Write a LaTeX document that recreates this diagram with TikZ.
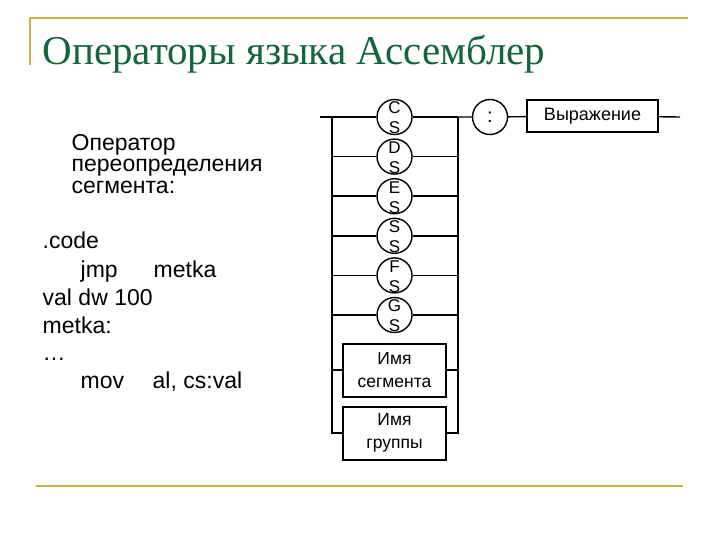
\documentclass[tikz,border=0pt]{standalone}
\usepackage{fontspec}
\setmainfont{Liberation Serif}
\newfontfamily\arialfont{Liberation Sans}
\definecolor{rulecolor}{RGB}{196,180,72}
\definecolor{titlegreen}{RGB}{20,100,62}

\begin{document}
\begin{tikzpicture}[x=1pt, y=-1pt, line width=1.4pt,
    seg/.style={draw, circle, minimum size=35pt, inner sep=0pt},
    namebox/.style={draw, rectangle, line width=2pt, minimum width=103pt, minimum height=53pt,
        inner sep=0pt, align=center, font=\arialfont\fontsize{17.5}{23}\selectfont},
    letter/.style={inner sep=0pt, font=\arialfont\fontsize{17}{17}\selectfont},
    code/.style={anchor=base west, inner sep=0pt, font=\arialfont\fontsize{23}{28}\selectfont}]

\useasboundingbox (0,0) rectangle (720,540);

% Frame lines of the slide
\draw[rulecolor, line width=2pt] (30,65) -- (30,18) -- (688,18);
\draw[rulecolor, line width=2pt] (36,486) -- (683,486);

% Title
\node[anchor=base west, inner sep=0pt, text=titlegreen, font=\fontsize{41}{41}\selectfont]
    (title) at (42,65) {Операторы языка Ассемблер};

% Text on the left
\node[code] (intro1) at (71,151) {Оператор};
\node[code] (intro2) at (71,172) {переопределения};
\node[code] (intro3) at (71,194) {сегмента:};

\node[code] (c1) at (42,248) {.code};
\node[code] (c2) at (80,277) {\makebox[73pt][l]{jmp}metka};
\node[code] (c3) at (42,305) {val dw 100};
\node[code] (c4) at (42,333) {metka:};
\node[code] (c5) at (42,360) {…};
\node[code] (c6) at (80,388) {\makebox[72pt][l]{mov}al, cs:val};

% Syntax diagram
\coordinate (in) at (320,117);
\coordinate (lb) at (332,433);
\coordinate (eb) at (458,433);
\coordinate (out) at (680,117);

% Segment register circles
\foreach \i/\a/\b in {0/C/S, 1/D/S, 2/E/S, 3/S/S, 4/F/S, 5/G/S} {
    \pgfmathsetmacro\y{117+39.6*\i}
    \coordinate (l\i) at (332,\y);
    \coordinate (e\i) at (458,\y);
    \node[seg] (r\i) at (394.5,\y) {};
    \node[letter] (r\i-t) at (394.5,\y-9) {\a};
    \node[letter] (r\i-b) at (394.5,\y+11) {\b};
    \draw (l\i) -- (r\i) -- (e\i);
}

% Name boxes
\node[namebox] (segname) at (394.5,370) {Имя\\сегмента};
\node[namebox] (grpname) at (394.5,433) {Имя\\группы};

\draw (l0) -- (lb) -- (grpname) -- (eb) -- (e0);
\draw (segname.west -| lb) -- (segname.west);
\draw (segname.east) -- (segname.east -| eb);

% Colon and expression
\node[seg, font=\arialfont\fontsize{20}{20}\selectfont] (colon) at (490,117) {:};
\node[draw, rectangle, line width=2pt, minimum width=131pt, minimum height=32pt, inner sep=0pt,
    font=\arialfont\fontsize{18}{18}\selectfont] (expr) at (592.5,116) {Выражение};

\draw (in) -- (l0);
\draw (e0) -- (colon) -- (expr) -- (out);

\end{tikzpicture}
\end{document}
